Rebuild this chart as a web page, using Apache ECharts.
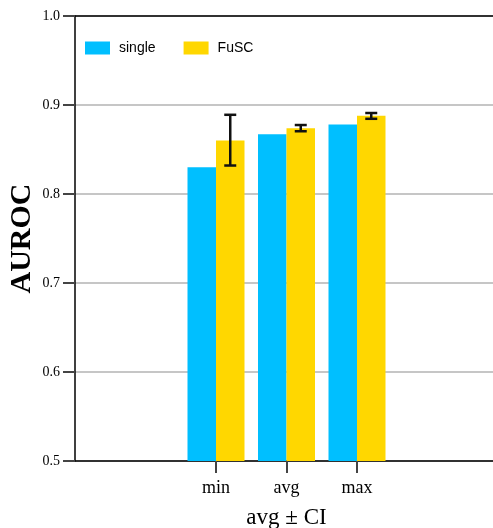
<!DOCTYPE html>
<html>
<head>
<meta charset="utf-8">
<script src="https://cdn.jsdelivr.net/npm/echarts@6/dist/echarts.min.js"></script>
<style>html,body{margin:0;padding:0;background:#fff}#c{width:493px;height:528px}</style>
</head>
<body>
<div id="c"></div>
<script>
// Data
const categories = ['', '', 'min', 'avg', 'max', '', ''];
const singleValues = [null, null, 0.830, 0.867, 0.878, null, null];
const fuscValues = [null, null, 0.860, 0.874, 0.888, null, null];
const fuscCILow = [null, null, 0.832, 0.8705, 0.8845, null, null];
const fuscCIHigh = [null, null, 0.889, 0.8775, 0.891, null, null];
const yTicks = [0.5, 0.6, 0.7, 0.8, 0.9, 1.0];

const BAR_W = 28.5;
const serif = '"Liberation Serif", "DejaVu Serif", serif';
const errData = [];
categories.forEach((c, i) => { if (fuscCILow[i] != null) errData.push([i, fuscCILow[i], fuscCIHigh[i]]); });

const chart = echarts.init(document.getElementById('c'));
chart.setOption({
  animation: false,
  backgroundColor: '#fff',
  grid: { left: 75, top: 16, bottom: 67, right: -5, containLabel: false, outerBoundsMode: 'none' },
  legend: {
    left: 85, top: 41, padding: 0,
    itemWidth: 25, itemHeight: 13, itemGap: 28,
    icon: 'rect',
    textStyle: { fontFamily: '"Liberation Sans", Arial, sans-serif', fontSize: 14, color: '#000', padding: [0, 0, 0, 4] },
    data: ['single', 'FuSC']
  },
  xAxis: [{
    type: 'category', data: categories, boundaryGap: false,
    name: 'avg ± CI', nameLocation: 'middle', nameGap: 45, nameMoveOverlap: false,
    nameTextStyle: { fontFamily: serif, fontSize: 23, color: '#000' },
    axisLine: { lineStyle: { color: '#000', width: 1.5 } },
    axisTick: { length: 12, lineStyle: { color: '#444', width: 2 }, interval: (i, v) => v !== '' },
    axisLabel: { fontFamily: serif, fontSize: 18, color: '#000', margin: 18, interval: 0 },
    splitLine: { show: false }
  }, {
    type: 'category', data: categories, boundaryGap: false, position: 'top',
    axisLine: { lineStyle: { color: '#000', width: 1.5 } },
    axisTick: { show: false }, axisLabel: { show: false }, splitLine: { show: false }
  }],
  yAxis: {
    type: 'value', min: 0.5, max: 1.0, interval: 0.1,
    name: 'AUROC', nameLocation: 'middle', nameGap: 38, nameMoveOverlap: false,
    nameTextStyle: { fontFamily: serif, fontSize: 30, fontWeight: 'bold', color: '#000' },
    axisLine: { show: true, lineStyle: { color: '#000', width: 1.5 } },
    axisTick: { show: true, length: 12, lineStyle: { color: '#444', width: 2 } },
    axisLabel: { fontFamily: serif, fontSize: 14, color: '#000', margin: 15,
      formatter: v => { const t = yTicks.find(x => Math.abs(x - v) < 1e-9); return t != null ? t.toFixed(1) : ''; } },
    splitLine: { show: true, lineStyle: { color: '#b3b3b3', width: 1.5 } }
  },
  series: [{
    name: 'single', type: 'bar', data: singleValues, barWidth: BAR_W, barGap: '0%',
    itemStyle: { color: '#00BFFF' }
  }, {
    name: 'FuSC', type: 'bar', data: fuscValues, barWidth: BAR_W, barGap: '0%',
    itemStyle: { color: '#FFD700' }
  }, {
    type: 'custom', data: errData, z: 10,
    renderItem: (params, api) => {
      const x = api.coord([api.value(0), api.value(1)])[0] + BAR_W / 2;
      const yLo = api.coord([api.value(0), api.value(1)])[1];
      const yHi = api.coord([api.value(0), api.value(2)])[1];
      const cap = 6;
      const st = { stroke: '#111', lineWidth: 2.5 };
      return { type: 'group', children: [
        { type: 'line', shape: { x1: x, y1: yLo, x2: x, y2: yHi }, style: st },
        { type: 'line', shape: { x1: x - cap, y1: yLo, x2: x + cap, y2: yLo }, style: st },
        { type: 'line', shape: { x1: x - cap, y1: yHi, x2: x + cap, y2: yHi }, style: st }
      ] };
    }
  }]
});
</script>
</body>
</html>
